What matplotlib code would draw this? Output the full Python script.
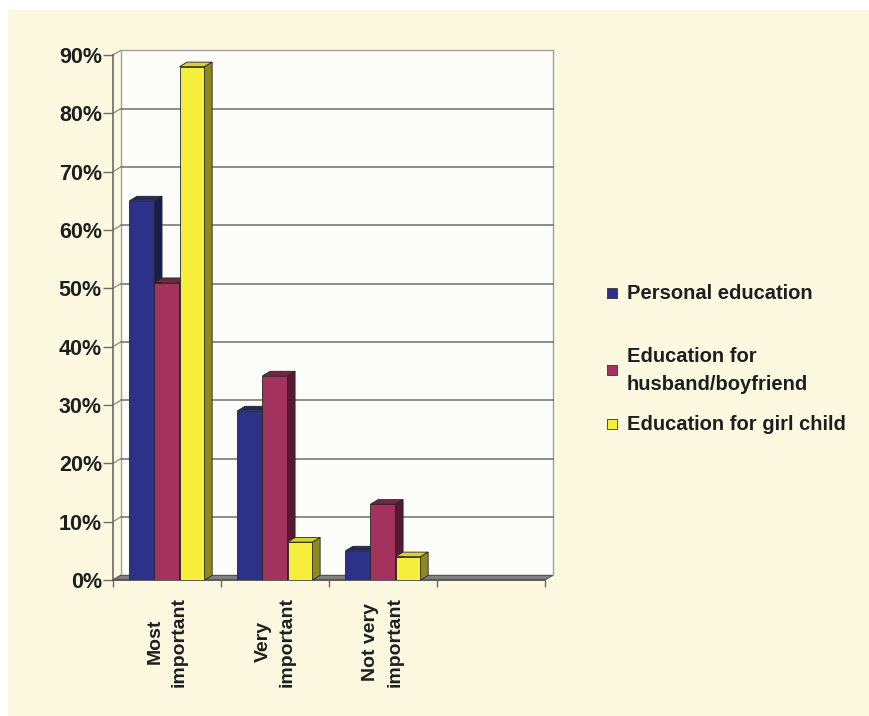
import matplotlib
matplotlib.use("Agg")
import matplotlib.pyplot as plt
from matplotlib.patches import Polygon, Rectangle

plt.rcParams['font.family'] = ['Liberation Sans', 'DejaVu Sans']
plt.rcParams['font.weight'] = 'bold'

categories = ["Most\nimportant", "Very\nimportant", "Not very\nimportant"]
series_names = ["Personal education", "Education for\nhusband/boyfriend", "Education for girl child"]
personal = [0.65, 0.29, 0.05]
husband = [0.51, 0.35, 0.13]
girl_child = [0.88, 0.065, 0.04]
yticks = [0, 0.1, 0.2, 0.3, 0.4, 0.5, 0.6, 0.7, 0.8, 0.9]

# front / top / side shades for each series
colors = [
    ("#2c3287", "#22276a", "#191c4e"),
    ("#a3335c", "#7a2444", "#561a30"),
    ("#f7ee3c", "#d9d12e", "#8c8822"),
]

n_slots = 4          # excel leaves an empty fourth category
bar_w = 0.232
dx, dy = 0.07, 0.0078   # depth offset of the 3d effect
edge = "#262626"

fig = plt.figure(figsize=(8.69, 7.16), dpi=100)
fig.patch.set_facecolor("#fdf9e1")
# white margin along the top and left of the scan
fig.patches.append(Rectangle((0, 0.986), 1, 0.014, transform=fig.transFigure,
                             facecolor="white", edgecolor="none", zorder=-5))
fig.patches.append(Rectangle((0, 0), 0.009, 1, transform=fig.transFigure,
                             facecolor="white", edgecolor="none", zorder=-5))

ax = fig.add_axes([113 / 869, 136 / 716, 432 / 869, 525 / 716])
ax.set_xlim(0, n_slots)
ax.set_ylim(0, 0.9)
ax.patch.set_visible(False)
for s in ax.spines.values():
    s.set_visible(False)

# back wall with gridlines
ax.add_patch(Rectangle((dx, dy), n_slots, 0.9, facecolor="#fcfcf9",
                       edgecolor="#a0a0a0", lw=1, clip_on=False, zorder=0))
for y in yticks:
    if 0 < y < 0.9:
        ax.plot([dx, n_slots + dx], [y + dy, y + dy], color="#6e6e6e", lw=1.1,
                clip_on=False, zorder=1)
    ax.plot([0, dx], [y, y + dy], color="#8a8a8a", lw=0.9, clip_on=False, zorder=1)

# floor
ax.add_patch(Polygon([(0, 0), (n_slots, 0), (n_slots + dx, dy), (dx, dy)],
                     closed=True, facecolor="#808080", edgecolor="#555555", lw=0.8,
                     clip_on=False, zorder=1))

# bars
x0 = [i + 0.5 - 1.5 * bar_w for i in range(len(categories))]
for j, vals in enumerate([personal, husband, girl_child]):
    front, top, side = colors[j]
    xs = [x + j * bar_w for x in x0]
    ax.bar(xs, vals, width=bar_w, align="edge", color=front, edgecolor=edge,
           lw=0.6, zorder=3 + j)
    for x, v in zip(xs, vals):
        ax.add_patch(Polygon([(x, v), (x + dx, v + dy), (x + bar_w + dx, v + dy), (x + bar_w, v)],
                             closed=True, facecolor=top, edgecolor=edge, lw=0.6,
                             clip_on=False, zorder=3 + j))
        ax.add_patch(Polygon([(x + bar_w, 0), (x + bar_w + dx, dy), (x + bar_w + dx, v + dy), (x + bar_w, v)],
                             closed=True, facecolor=side, edgecolor=edge, lw=0.6,
                             clip_on=False, zorder=3 + j))

# axes lines
ax.plot([0, 0], [0, 0.9], color="#6a6a6a", lw=1.2, clip_on=False, zorder=2)
ax.plot([0, n_slots], [0, 0], color="#555555", lw=1.2, clip_on=False, zorder=2)

ax.set_yticks(yticks)
ax.set_yticklabels([f"{v:.0%}" for v in yticks])
ax.tick_params(axis="y", direction="out", length=7, width=1, color="#6a6a6a",
               pad=1, labelsize=15.5, labelcolor="#1e1e1e")

ax.set_xticks(range(n_slots + 1))
ax.set_xticklabels([])
ax.set_xticks([i + 0.5 for i in range(len(categories))], minor=True)
ax.set_xticklabels(categories, minor=True, rotation=90, fontsize=14,
                   color="#1e1e1e", linespacing=1.55)
ax.tick_params(axis="x", which="major", direction="out", length=5, width=1,
               color="#6a6a6a")
ax.tick_params(axis="x", which="minor", length=0, pad=12)
for lab in ax.get_xticklabels(minor=True):
    lab.set_multialignment("center")

# legend
legend_y = [293, 370, 424]
for (front, _, _), name, y in zip(colors, series_names, legend_y):
    fig.patches.append(Rectangle((607 / 869, 1 - (y + 5) / 716), 10 / 869, 10 / 716,
                                 transform=fig.transFigure, facecolor=front,
                                 edgecolor="#333333", lw=0.6))
    fig.text(627 / 869, 1 - y / 716, name, fontsize=14.5, color="#1e1e1e",
             va="center", ha="left", linespacing=1.6)

fig.savefig("out.png", dpi=100, facecolor=fig.get_facecolor())
